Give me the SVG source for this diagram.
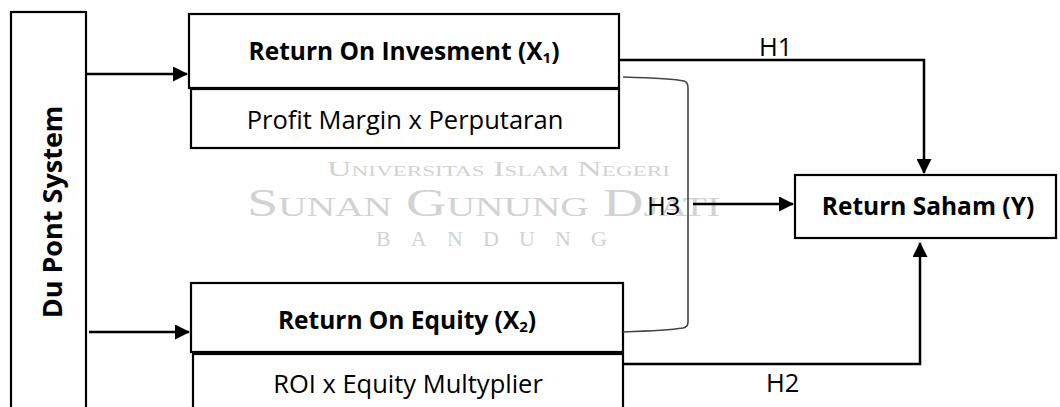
<svg xmlns="http://www.w3.org/2000/svg" width="1060" height="407" viewBox="0 0 1060 407">
  <style>
    .box { fill: #ffffff; stroke: #000000; stroke-width: 2.2; }
    .bold { font-family: "Open Sans", "Liberation Sans", sans-serif; font-weight: 700; font-size: 24.5px; fill: #000000; }
    .reg { font-family: "Open Sans", "Liberation Sans", sans-serif; font-weight: 400; font-size: 25.5px; fill: #000000; }
    .title { font-size: 27px; }
    .wire { fill: none; stroke: #000000; stroke-width: 2.5; }
    .brace { fill: none; stroke: #444444; stroke-width: 1.6; }
    .mark { font-family: "Liberation Serif", "DejaVu Serif", serif; fill: #d2d2d2; font-variant: small-caps; }
  </style>
  <defs>
    <marker id="arrow" markerWidth="6" markerHeight="6" refX="5.6" refY="3" orient="auto" markerUnits="strokeWidth">
      <path d="M0,0 L6,3 L0,6 Z" fill="#000000"/>
    </marker>
  </defs>

  <rect width="1060" height="407" fill="#ffffff"/>

  <!-- background watermark -->
  <g id="watermark">
    <text class="mark" x="327" y="176" font-size="22" textLength="343" lengthAdjust="spacingAndGlyphs">Universitas Islam Negeri</text>
    <text class="mark" x="247" y="216" font-size="40" textLength="473" lengthAdjust="spacingAndGlyphs">Sunan Gunung Djati</text>
    <text class="mark" x="376" y="246" font-size="22" textLength="231" lengthAdjust="spacing" style="font-variant: normal">BANDUNG</text>
  </g>

  <!-- left column -->
  <g id="du-pont">
    <rect class="box" x="11" y="12" width="75" height="410"/>
    <text class="bold title" transform="translate(62,212) rotate(-90)" text-anchor="middle">Du Pont System</text>
  </g>

  <!-- independent variables -->
  <g id="roi">
    <rect class="box" x="189" y="14" width="430" height="74"/>
    <text class="bold" x="404" y="60" text-anchor="middle">Return On Invesment (X<tspan font-size="15" dy="3">1</tspan><tspan dy="-3">)</tspan></text>
  </g>
  <g id="roi-formula">
    <rect class="box" x="191" y="89" width="428" height="59"/>
    <text class="reg" x="405" y="129" text-anchor="middle">Profit Margin x Perputaran</text>
  </g>
  <g id="roe">
    <rect class="box" x="191" y="283" width="432" height="69"/>
    <text class="bold" x="407" y="329" text-anchor="middle">Return On Equity (X<tspan font-size="15" dy="3">2</tspan><tspan dy="-3">)</tspan></text>
  </g>
  <g id="roe-formula">
    <rect class="box" x="193" y="354" width="430" height="70"/>
    <text class="reg" x="408" y="393" text-anchor="middle">ROI x Equity Multyplier</text>
  </g>

  <!-- dependent variable -->
  <g id="return-saham">
    <rect class="box" x="795" y="175" width="261" height="63"/>
    <text class="bold" x="928" y="215" text-anchor="middle">Return Saham (Y)</text>
  </g>

  <!-- connectors -->
  <g id="connectors">
    <line class="wire" x1="87" y1="74" x2="187" y2="74" marker-end="url(#arrow)"/>
    <line class="wire" x1="89" y1="332" x2="189" y2="332" marker-end="url(#arrow)"/>
    <polyline class="wire" points="619,60 924,60 924,173" marker-end="url(#arrow)"/>
    <polyline class="wire" points="623,364 920,364 920,243" marker-end="url(#arrow)"/>
    <path class="brace" d="M623,77 C655,78 675,79 684,81 Q688,82 688,88 L688,322 Q688,327 683,328 C670,330 650,331 623,332"/>
    <line class="wire" x1="693" y1="204" x2="793" y2="204" marker-end="url(#arrow)"/>
    <text class="reg" x="759" y="56">H1</text>
    <text class="reg" x="766" y="392">H2</text>
    <text class="reg" x="647" y="215">H3</text>
  </g>
</svg>
